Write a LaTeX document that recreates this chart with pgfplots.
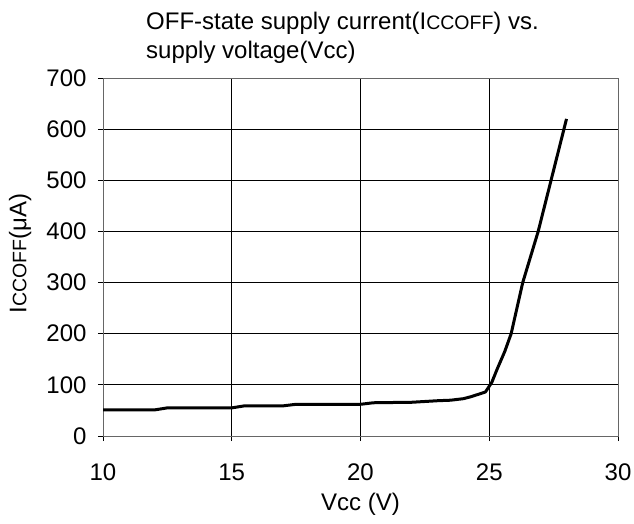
\documentclass[border=0pt]{standalone}
\usepackage{fontspec}
\setmainfont{Liberation Sans}
\usepackage{pgfplots}
\pgfplotsset{compat=1.18}
\newcommand{\lbl}{\fontsize{24pt}{28pt}\selectfont}
\newcommand{\sm}{\fontsize{19.5pt}{22pt}\selectfont}
\begin{document}
\begin{tikzpicture}[x=1pt,y=1pt]
\begin{axis}[
  at={(103pt,87pt)}, anchor=south west,
  scale only axis,
  width=515pt, height=358pt,
  xmin=10, xmax=30, ymin=0, ymax=700,
  xtick={10,15,20,25,30},
  ytick={0,100,...,700},
  grid=major,
  major grid style={black, line width=0.8pt},
  axis line style={gray!80!black, line width=1pt},
  tick align=outside,
  major tick length=5pt,
  tick style={black, line width=0.8pt},
  xtick pos=bottom, ytick pos=left,
  /pgf/number format/assume math mode=true,
  ticklabel style={font=\lbl},
  xticklabel style={yshift=-19pt},
  yticklabel={\pgfmathprintnumber{\tick}\hspace*{8pt}},
  label style={font=\lbl},
  xlabel={Vcc (V)},
  ylabel={I{\sm CCOFF}(μA)},
  xlabel style={at={(axis description cs:0.5,-0.19)}, anchor=center},
  ylabel style={at={(axis description cs:-0.161,0.51)}, anchor=center},
]
\addplot[black, line width=3pt, line join=round] coordinates {
(10,51) (12,51) (12.5,55) (15,55) (15.5,59) (17,59) (17.5,62) (20,62)
(20.5,65) (22,66) (23,69) (23.5,70) (24,73) (24.3,77) (24.85,86)
(25.1,105) (25.3,130) (25.6,165) (25.85,200) (26.3,300) (26.9,400)
(27.4,500) (28,620)
};
\end{axis}
\node[anchor=base west, inner sep=0pt, font=\lbl] at (146pt,493pt)
  {OFF-state supply current(I{\sm CCOFF}) vs.};
\node[anchor=base west, inner sep=0pt, font=\lbl] at (146pt,464pt)
  {supply voltage(Vcc)};
\pgfresetboundingbox
\useasboundingbox (0,0) rectangle (634pt,523pt);
\end{tikzpicture}
\end{document}
